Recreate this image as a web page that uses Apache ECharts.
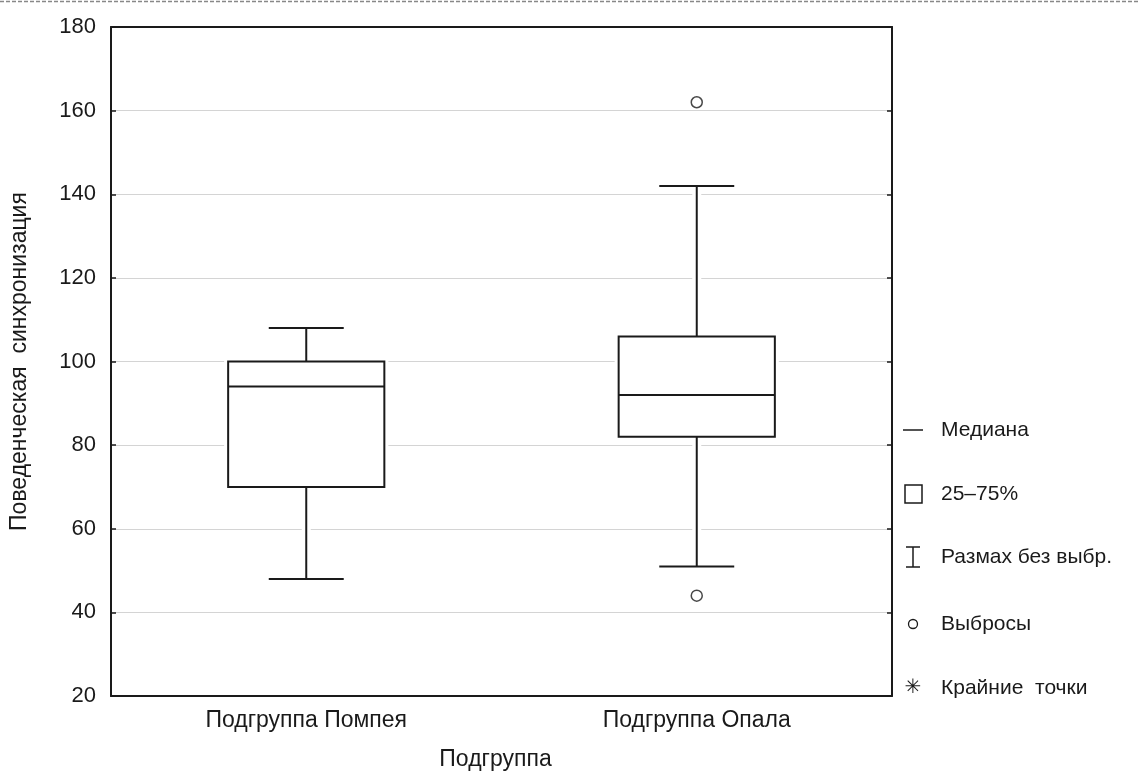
<!DOCTYPE html>
<html>
<head>
<meta charset="utf-8">
<script src="https://cdn.jsdelivr.net/npm/echarts@6/dist/echarts.min.js"></script>
<style>
  html, body { margin: 0; padding: 0; background: #fff; }
  #chart { width: 1140px; height: 776px; }
</style>
</head>
<body>
<div id="chart"></div>
<script>
// groups and their box statistics: [min, q1, median, q3, max] (whiskers without outliers)
const categories = ['Подгруппа Помпея', 'Подгруппа Опала'];
const boxStats = [
  [48, 70, 94, 100, 108],
  [51, 82, 92, 106, 142]
];
// outliers: [groupIndex, value]
const outliers = [
  [1, 162],
  [1, 44]
];
const yTicks = { min: 20, max: 180, interval: 20 };

const legendNames = ['Медиана', '25–75%', 'Размах без выбр.', 'Выбросы', 'Крайние  точки'];

const ink = '#1a1a1a';
const font = 'Liberation Sans, Arial, sans-serif';

const chart = echarts.init(document.getElementById('chart'), null, { renderer: 'canvas' });

function renderBox(params, api) {
  const idx = api.value(0);
  const pMin = api.coord([idx, api.value(1)]);
  const pQ1 = api.coord([idx, api.value(2)]);
  const pMed = api.coord([idx, api.value(3)]);
  const pQ3 = api.coord([idx, api.value(4)]);
  const pMax = api.coord([idx, api.value(5)]);
  const band = api.size([1, 0])[0];
  const half = band * 0.2;
  const cap = band * 0.096;
  const cx = pMed[0];
  const halo = { stroke: '#fff', lineWidth: 9 };
  const line = { stroke: ink, lineWidth: 2 };
  const seg = (x1, y1, x2, y2, style) => ({
    type: 'line', shape: { x1, y1, x2, y2 }, style
  });
  return {
    type: 'group',
    children: [
      // white halo so grid lines stop short of the marks
      seg(cx, pMax[1], cx, pQ3[1], halo),
      seg(cx, pQ1[1], cx, pMin[1], halo),
      { type: 'rect', shape: { x: cx - half - 4, y: pQ3[1] - 4, width: half * 2 + 8, height: pQ1[1] - pQ3[1] + 8 }, style: { fill: '#fff' } },
      // whiskers
      seg(cx, pMax[1], cx, pQ3[1], line),
      seg(cx, pQ1[1], cx, pMin[1], line),
      seg(cx - cap, pMax[1], cx + cap, pMax[1], line),
      seg(cx - cap, pMin[1], cx + cap, pMin[1], line),
      // box
      { type: 'rect', shape: { x: cx - half, y: pQ3[1], width: half * 2, height: pQ1[1] - pQ3[1] }, style: { fill: '#fff', stroke: ink, lineWidth: 2 } },
      // median
      seg(cx - half, pMed[1], cx + half, pMed[1], line)
    ]
  };
}

// legend drawn as graphic elements on the right
const legendX = 913;
const legendTextX = 941;
const legendY = [430, 494, 557, 624, 688];
const legendGraphics = [
  { type: 'line', shape: { x1: legendX - 10, y1: legendY[0], x2: legendX + 10, y2: legendY[0] }, style: { stroke: ink, lineWidth: 1.5 } },
  { type: 'rect', shape: { x: legendX - 8, y: legendY[1] - 9, width: 17, height: 18 }, style: { fill: '#fff', stroke: ink, lineWidth: 1.5 } },
  { type: 'line', shape: { x1: legendX, y1: legendY[2] - 10, x2: legendX, y2: legendY[2] + 10 }, style: { stroke: ink, lineWidth: 1.5 } },
  { type: 'line', shape: { x1: legendX - 7, y1: legendY[2] - 10, x2: legendX + 7, y2: legendY[2] - 10 }, style: { stroke: ink, lineWidth: 1.5 } },
  { type: 'line', shape: { x1: legendX - 7, y1: legendY[2] + 10, x2: legendX + 7, y2: legendY[2] + 10 }, style: { stroke: ink, lineWidth: 1.5 } },
  { type: 'circle', shape: { cx: legendX, cy: legendY[3], r: 4.5 }, style: { fill: '#fff', stroke: ink, lineWidth: 1.3 } },
  { type: 'text', style: { text: '✳', x: legendX, y: legendY[4], fill: ink, font: '20px DejaVu Sans', align: 'center', verticalAlign: 'middle' } }
];
legendNames.forEach((name, i) => {
  legendGraphics.push({
    type: 'text',
    style: { text: name, x: legendTextX, y: legendY[i], fill: ink, font: '21px ' + font, verticalAlign: 'middle' }
  });
});
// dashed rule at the very top of the picture
legendGraphics.push({
  type: 'line', shape: { x1: 0, y1: 1.5, x2: 1140, y2: 1.5 },
  style: { stroke: '#888', lineWidth: 1.5, lineDash: [4, 2] }
});

const option = {
  backgroundColor: '#fff',
  animation: false,
  textStyle: { fontFamily: font, color: ink },
  grid: { left: 109, right: 248, top: 27, bottom: 77 },
  xAxis: [{
    type: 'category',
    data: categories,
    name: 'Подгруппа',
    nameLocation: 'middle',
    nameGap: 52,
    nameTextStyle: { fontSize: 23, color: ink, padding: [0, 12, 0, 0] },
    axisLine: { lineStyle: { color: ink, width: 2 } },
    axisTick: { inside: true, alignWithLabel: true, length: 5, lineStyle: { color: ink, width: 1.5 } },
    axisLabel: { fontSize: 23, color: ink, margin: 13 },
    splitLine: { show: false }
  }, {
    type: 'category',
    data: categories,
    position: 'top',
    axisLine: { lineStyle: { color: ink, width: 2 } },
    axisTick: { inside: true, alignWithLabel: true, length: 5, lineStyle: { color: ink, width: 1.5 } },
    axisLabel: { show: false }
  }],
  yAxis: [{
    type: 'value',
    min: yTicks.min,
    max: yTicks.max,
    interval: yTicks.interval,
    name: 'Поведенческая  синхронизация',
    nameLocation: 'middle',
    nameGap: 80,
    nameTextStyle: { fontSize: 23, color: ink, padding: [0, 0, 0, 0] },
    axisLine: { show: true, lineStyle: { color: ink, width: 2 } },
    axisTick: { show: true, inside: true, length: 5, lineStyle: { color: ink, width: 1.5 } },
    axisLabel: { fontSize: 22, color: ink, margin: 15 },
    splitLine: { lineStyle: { color: '#d4d4d4', width: 1.2 } }
  }, {
    type: 'value',
    min: yTicks.min,
    max: yTicks.max,
    interval: yTicks.interval,
    position: 'right',
    axisLine: { show: true, lineStyle: { color: ink, width: 2 } },
    axisTick: { show: true, inside: true, length: 5, lineStyle: { color: ink, width: 1.5 } },
    axisLabel: { show: false },
    splitLine: { show: false }
  }],
  series: [{
    type: 'custom',
    name: '25–75%',
    renderItem: renderBox,
    encode: { x: 0, y: [1, 2, 3, 4, 5] },
    data: boxStats.map((s, i) => [i].concat(s)),
    z: 3
  }, {
    type: 'scatter',
    name: 'Выбросы',
    symbol: 'circle',
    symbolSize: 11,
    itemStyle: { color: '#fff', borderColor: ink, borderWidth: 1.5 },
    data: outliers,
    z: 4
  }],
  graphic: legendGraphics
};

chart.setOption(option);
</script>
</body>
</html>
